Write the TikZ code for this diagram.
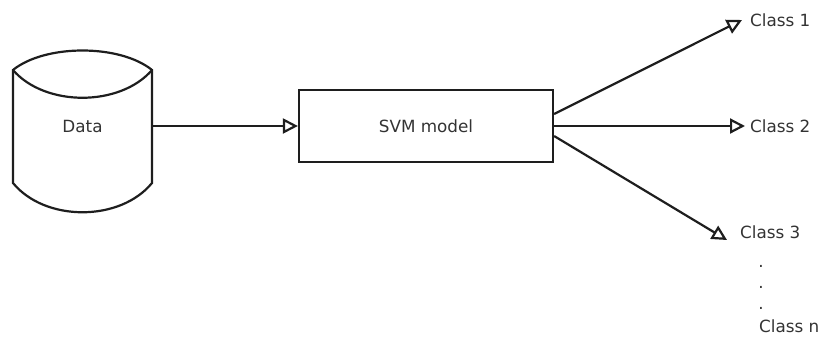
\documentclass[tikz,border=0pt]{standalone}
\usepackage{fontspec}
\setmainfont{DejaVu Sans}
\usetikzlibrary{arrows.meta}
\definecolor{ink}{HTML}{1E1E1E}
\definecolor{txt}{HTML}{333333}
\begin{document}
\begin{tikzpicture}[x=1pt,y=-1pt,
  outline/.style={draw=ink,line width=2.2pt},
  lbl/.style={text=txt,font=\fontsize{16.8}{20}\selectfont,inner sep=0pt},
  flow/.style={draw=ink,line width=2.2pt,-{Triangle[open,length=15pt,width=15pt,line width=2.2pt]}}]
\useasboundingbox (0,0) rectangle (822,338);

% database cylinder
\draw[outline,line join=miter] (13,70) .. controls (45,44) and (120,44) .. (152,70)
  -- (152,183) .. controls (120,222) and (45,222) .. (13,183) -- cycle;
\draw[outline] (13,70) .. controls (45,107) and (120,107) .. (152,70);
\node[lbl,minimum width=139pt,minimum height=70pt] (data) at (82.5,126) {Data};

% classifier
\node[outline,lbl,minimum width=254pt,minimum height=72pt] (svm) at (426,126) {SVM model};

% outputs
\node[lbl,anchor=west] (c1) at (750,20) {Class 1};
\node[lbl,anchor=west] (c2) at (750,126) {Class 2};
\node[lbl,anchor=west] (c3) at (740,232) {Class 3};
\node[lbl] (d1) at (761,266) {.};
\node[lbl] (d2) at (761,287) {.};
\node[lbl] (d3) at (761,308) {.};
\node[lbl,anchor=west] (cn) at (759,326) {Class n};

\coordinate (t1) at (742,20);
\coordinate (t2) at (745,126);
\coordinate (t3) at (727,240);

\draw[flow] (data.east) -- (svm.west);
\draw[flow] ([yshift=12pt]svm.east) -- (t1);
\draw[flow] (svm.east) -- (t2);
\draw[flow] ([yshift=-10pt]svm.east) -- (t3);
\end{tikzpicture}
\end{document}
